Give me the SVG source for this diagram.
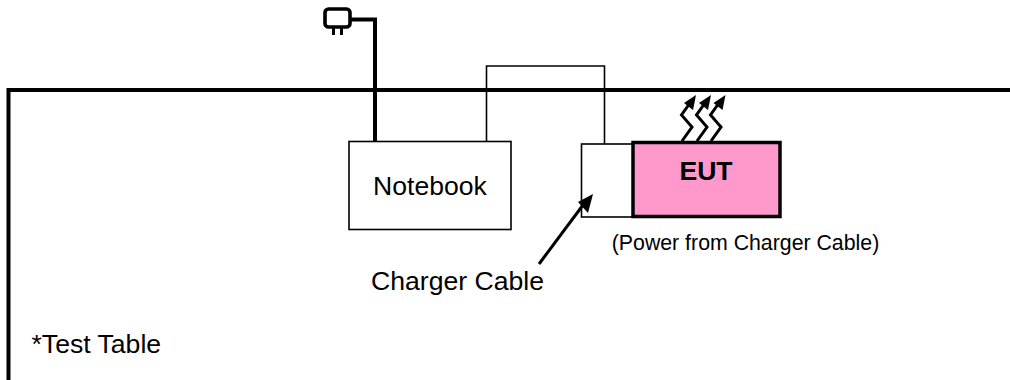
<svg xmlns="http://www.w3.org/2000/svg" width="1010" height="380" viewBox="0 0 1010 380">
<style>
text{font-family:"Liberation Sans",Arial,sans-serif;fill:#000;font-size:26.600px}
.box{fill:#fff;stroke:#000;stroke-width:1.600}
.thin{fill:none;stroke:#000;stroke-width:1.600}
.thick{fill:none;stroke:#000;stroke-width:4}
.wave{fill:none;stroke:#000;stroke-width:3;stroke-linejoin:miter}
.head{fill:#000}
</style>
<g id="table">
<path class="thick" d="M1010 90H8.500V380"/>
<text x="31.500" y="353">*Test Table</text>
</g>
<g id="notebook">
<rect class="box" x="349" y="141.500" width="162" height="88"/>
<text x="430" y="194.500" text-anchor="middle">Notebook</text>
</g>
<g id="charger">
<rect class="box" x="581.500" y="144" width="52" height="73"/>
<text x="457.500" y="289.500" text-anchor="middle">Charger Cable</text>
</g>
<g id="eut">
<rect x="633" y="142.500" width="147" height="74" fill="#ff99cc" stroke="#000" stroke-width="3.500"/>
<text x="706" y="180" text-anchor="middle" font-weight="700">EUT</text>
<text x="745.500" y="250" text-anchor="middle" style="font-size:21.300px">(Power from Charger Cable)</text>
</g>
<g id="plug">
<rect x="325" y="9" width="25" height="18" rx="3.500" fill="#fff" stroke="#000" stroke-width="3.600"/>
<path d="M333.500 27V35M341.500 27V35" stroke="#000" stroke-width="3" fill="none"/>
</g>
<g id="heat">
<path class="wave" d="M682 141L692 127L681.500 115L690 103"/>
<path class="wave" d="M697 141L707 127L696.500 115L705 103"/>
<path class="wave" d="M711 141L721 127L710.500 115L719 103"/>
<path class="head" d="M696 95L693 110L684 103Z M711 95L708 110L699 103Z M725.500 95L722.500 110L713.500 103Z"/>
</g>
<g id="connectors">
<path class="thick" d="M351 19.500H375V142"/>
<path class="thin" d="M486.500 142V66H604.500V144"/>
<path d="M539 264L586 201" fill="none" stroke="#000" stroke-width="3"/>
<path class="head" d="M593 194L588 213L578 202Z"/>
</g>
</svg>
